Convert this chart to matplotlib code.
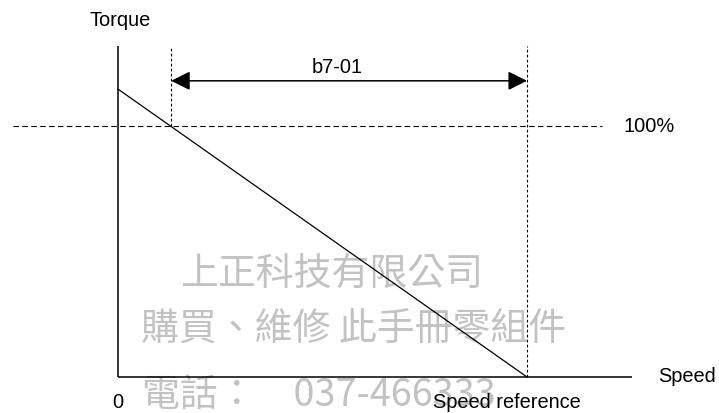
import matplotlib
matplotlib.use("Agg")
import matplotlib.pyplot as plt

# ---- data (speed in units of the speed reference, torque in units of 100%) ----
line_speed = [0.0, 1.0]          # torque limit line: speed points
line_torque = [1.147, 0.0]       # torque limit line: torque points
b7_start_speed = 0.13            # start of b7-01 range
speed_reference = 1.0            # speed reference
torque_100 = 1.0                 # 100% torque level
axis_speed_max = 1.257
axis_torque_max = 1.32
dash_h_range = [-0.257, 1.183]
arrow_torque = 1.18

labels_text = {
    "torque": "Torque",
    "speed": "Speed",
    "zero": "0",
    "speed_ref": "Speed reference",
    "pct": "100%",
    "b7": "b7-01",
}
watermark_lines = ["上正科技有限公司", "購買、維修 此手冊零組件", "電話：\u3000037-466333"]

# ---- figure ----
W, H, DPI = 719, 413, 100
fig = plt.figure(figsize=(W / DPI, H / DPI), dpi=DPI)
ax = fig.add_axes([0, 0, 1, 1])
x0_px, sx = 118, 409.0
y0_px, sy = 377, 251.0
ax.set_xlim(-x0_px / sx, (W - x0_px) / sx)
ax.set_ylim(-(H - y0_px) / sy, y0_px / sy)
ax.axis("off")

latin = ["Liberation Sans", "DejaVu Sans"]
cjk = ["Noto Sans CJK TC", "DejaVu Sans"]
fs = 14.4

# watermark
wm_color = "#c2c2c2"
wm_kw = dict(family=cjk, fontsize=27.3, color=wm_color, fontweight="light",
             ha="left", va="center", zorder=1)
ax.text(0.152, 0.405, watermark_lines[0], **wm_kw)
ax.text(0.057, 0.19, watermark_lines[1], **wm_kw)
ax.text(0.059, -0.075, watermark_lines[2], **wm_kw)

# axes lines
ax.plot([0, 0], [0, axis_torque_max], color="black", lw=1.1, solid_capstyle="butt", zorder=3)
ax.plot([0, axis_speed_max], [0, 0], color="black", lw=1.1, solid_capstyle="butt", zorder=3)

# torque limit line
ax.plot(line_speed, line_torque, color="black", lw=0.9, zorder=3)

# dashed lines
ax.plot(dash_h_range, [torque_100, torque_100], color="black", lw=0.8,
        linestyle=(0, (5, 3)), zorder=2)
ax.plot([b7_start_speed, b7_start_speed], [torque_100, axis_torque_max], color="black",
        lw=0.8, linestyle=(0, (2.5, 2)), zorder=2)
ax.plot([speed_reference, speed_reference], [0, axis_torque_max], color="black",
        lw=0.8, linestyle=(0, (2.5, 2)), zorder=2)

# double arrow
ax.annotate("", xy=(speed_reference, arrow_torque), xytext=(b7_start_speed, arrow_torque),
            arrowprops=dict(arrowstyle="<|-|>", color="black", lw=1.1,
                            mutation_scale=29, shrinkA=0, shrinkB=0), zorder=4)

# texts
ax.text(0.005, 1.42, labels_text["torque"], family=latin, fontsize=fs, ha="center",
        va="center", zorder=5)
ax.text(0.536, 1.233, labels_text["b7"], family=latin, fontsize=fs, ha="center",
        va="center", zorder=5)
ax.text(1.235, torque_100, labels_text["pct"], family=latin, fontsize=fs, ha="left",
        va="center", zorder=5)
ax.text(1.32, 0.0, labels_text["speed"], family=latin, fontsize=fs, ha="left",
        va="center", zorder=5)
ax.text(0.0, -0.1, labels_text["zero"], family=latin, fontsize=fs, ha="center",
        va="center", zorder=5)
ax.text(0.951, -0.1, labels_text["speed_ref"], family=latin, fontsize=fs, ha="center",
        va="center", zorder=5)

fig.savefig("out.png", dpi=DPI, facecolor="white")
